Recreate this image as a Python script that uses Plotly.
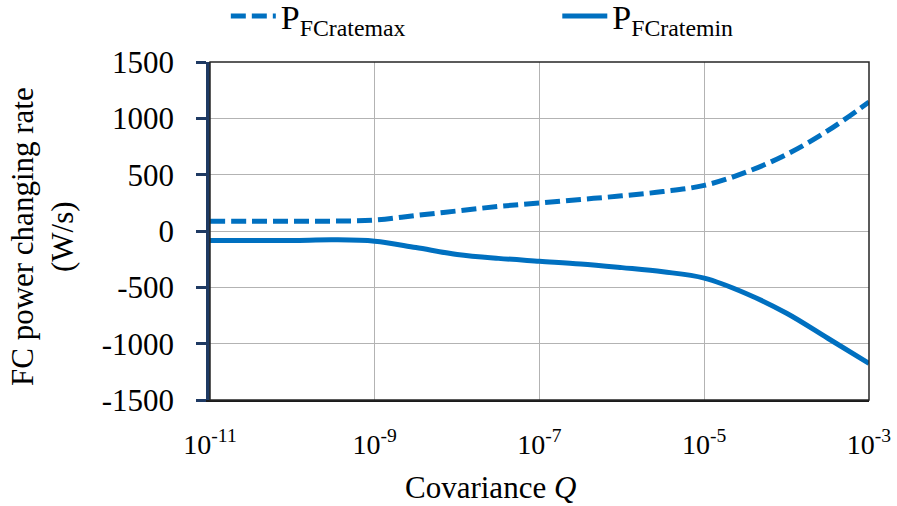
import plotly.graph_objects as go

# Data
log_q = [-11, -10.5, -10, -9.5, -9, -8.5, -8, -7.5, -7, -6.5, -6, -5.5, -5, -4.5, -4, -3.5, -3]
p_max = [87, 86, 86, 88, 97, 138, 178, 218, 248, 280, 312, 350, 405, 520, 680, 890, 1145]
p_min = [-85, -85, -84, -78, -90, -147, -208, -243, -268, -292, -325, -362, -418, -552, -730, -952, -1175]

x_tick_vals = [1e-11, 1e-9, 1e-7, 1e-5, 1e-3]
x_tick_text = ["10<sup>-11</sup>", "10<sup>-9</sup>", "10<sup>-7</sup>", "10<sup>-5</sup>", "10<sup>-3</sup>"]
y_tick_vals = [-1500, -1000, -500, 0, 500, 1000, 1500]
y_tick_text = ["-1500", "-1000", "-500", "0", "500", "1000", "1500"]

q = [10 ** v for v in log_q]
BLUE = "#0070C0"
FONT = "Liberation Serif"

fig = go.Figure()
fig.add_trace(go.Scatter(x=q, y=p_max, mode="lines", name="P<sub>FCratemax</sub>", legend="legend",
                         line=dict(color=BLUE, width=5, dash="15px,6px", shape="spline")))
fig.add_trace(go.Scatter(x=q, y=p_min, mode="lines", name="P<sub>FCratemin</sub>", legend="legend2",
                         line=dict(color=BLUE, width=5, shape="spline")))

leg_common = dict(orientation="h", y=1.135, xanchor="left", yanchor="middle",
                  font=dict(size=34, family=FONT), itemwidth=45, bgcolor="rgba(0,0,0,0)")

fig.update_layout(
    width=897, height=506,
    margin=dict(l=210, r=28, t=62, b=106, autoexpand=False),
    paper_bgcolor="white", plot_bgcolor="white",
    font=dict(family=FONT, color="black", size=28),
    showlegend=True,
    legend=dict(x=0.024, **leg_common),
    legend2=dict(x=0.527, **leg_common),
    shapes=[dict(type="rect", xref="paper", yref="paper", x0=0, y0=0, x1=1, y1=1,
                 line=dict(color="#262626", width=1.5), layer="above")],
    annotations=[
        dict(text="Covariance <i>Q</i>", xref="paper", yref="paper", x=0.426, y=-0.26,
             xanchor="center", yanchor="middle", showarrow=False,
             font=dict(size=31, family=FONT, color="black")),
        dict(text="FC power changing rate<br>(W/s)", xref="paper", yref="paper", x=-0.255, y=0.485,
             xanchor="center", yanchor="middle", showarrow=False, textangle=-90,
             font=dict(size=31, family=FONT, color="black")),
    ],
)

fig.update_xaxes(type="log", range=[-11, -3], tickvals=x_tick_vals, ticktext=x_tick_text,
                 showgrid=True, gridcolor="#B3B3B3", gridwidth=1,
                 showline=True, linecolor="#1a1a1a", linewidth=2,
                 ticks="", ticklabelstandoff=18,
                 tickfont=dict(size=28, family=FONT),
                 zeroline=False)
fig.update_yaxes(range=[-1500, 1500], tickvals=y_tick_vals, ticktext=y_tick_text,
                 showgrid=True, gridcolor="#B3B3B3", gridwidth=1,
                 showline=True, linecolor="#1F3A63", linewidth=3.5,
                 ticks="outside", ticklen=10, tickwidth=3, tickcolor="#1F3A63",
                 ticklabelstandoff=16,
                 tickfont=dict(size=31, family=FONT),
                 zeroline=False)

fig.write_html("out.html")
